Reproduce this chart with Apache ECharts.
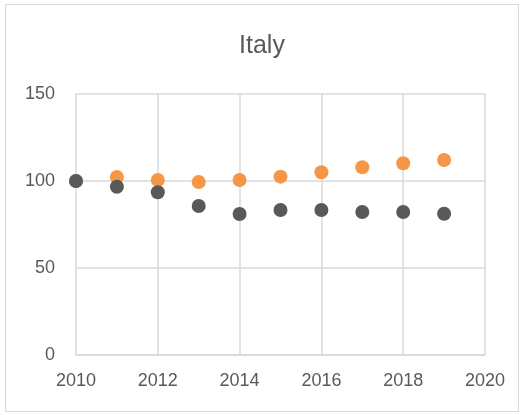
<!DOCTYPE html>
<html>
<head>
<meta charset="utf-8">
<script src="https://cdn.jsdelivr.net/npm/echarts@6/dist/echarts.min.js"></script>
<style>
html, body { margin: 0; padding: 0; background: #fff; }
#main { width: 524px; height: 415px; }
</style>
</head>
<body>
<div id="main"></div>
<script>
// Italy - two index series, 2010 = 100
var years = [2010, 2011, 2012, 2013, 2014, 2015, 2016, 2017, 2018, 2019];
var orangeVals = [100, 102.3, 100.6, 99.4, 100.6, 102.5, 105, 107.9, 110.2, 112.1];
var grayVals = [100, 96.7, 93.5, 85.6, 81, 83.3, 83.3, 82.2, 82.2, 81.2];

function pairs(xs, ys) {
    var out = [];
    for (var i = 0; i < xs.length; i++) {
        out.push([xs[i], ys[i]]);
    }
    return out;
}

var chart = echarts.init(document.getElementById('main'));
var labelStyle = {
    color: '#595959',
    fontSize: 18,
    fontFamily: 'Liberation Sans'
};
var option = {
    animation: false,
    title: {
        text: 'Italy',
        left: 'center',
        top: 29,
        textStyle: {
            color: '#595959',
            fontSize: 25,
            fontWeight: 'normal',
            fontFamily: 'Liberation Sans'
        }
    },
    graphic: [{
        type: 'rect',
        shape: { x: 5.5, y: 4.5, width: 513, height: 407 },
        style: { fill: 'none', stroke: '#D9D9D9', lineWidth: 1 },
        silent: true,
        z: -1
    }],
    grid: {
        left: 76,
        right: 39,
        top: 94,
        bottom: 60
    },
    xAxis: {
        type: 'value',
        min: 2010,
        max: 2020,
        interval: 2,
        axisLine: { show: true, onZero: false, lineStyle: { color: '#D9D9D9', width: 1.5 } },
        axisTick: { show: false },
        axisLabel: Object.assign({ margin: 17, formatter: function (v) { return String(v); } }, labelStyle),
        splitLine: { show: true, lineStyle: { color: '#D9D9D9', width: 1.5 } }
    },
    yAxis: {
        type: 'value',
        min: 0,
        max: 150,
        interval: 50,
        axisLine: { show: false },
        axisTick: { show: false },
        axisLabel: Object.assign({ margin: 21 }, labelStyle),
        splitLine: { show: true, lineStyle: { color: '#D9D9D9', width: 1.5 } }
    },
    series: [
        {
            name: 'orange',
            type: 'scatter',
            symbolSize: 14,
            data: pairs(years, orangeVals),
            itemStyle: { color: '#F79646', opacity: 1 }
        },
        {
            name: 'gray',
            type: 'scatter',
            symbolSize: 14,
            data: pairs(years, grayVals),
            itemStyle: { color: '#595959', opacity: 1 }
        }
    ]
};
chart.setOption(option);
</script>
</body>
</html>
